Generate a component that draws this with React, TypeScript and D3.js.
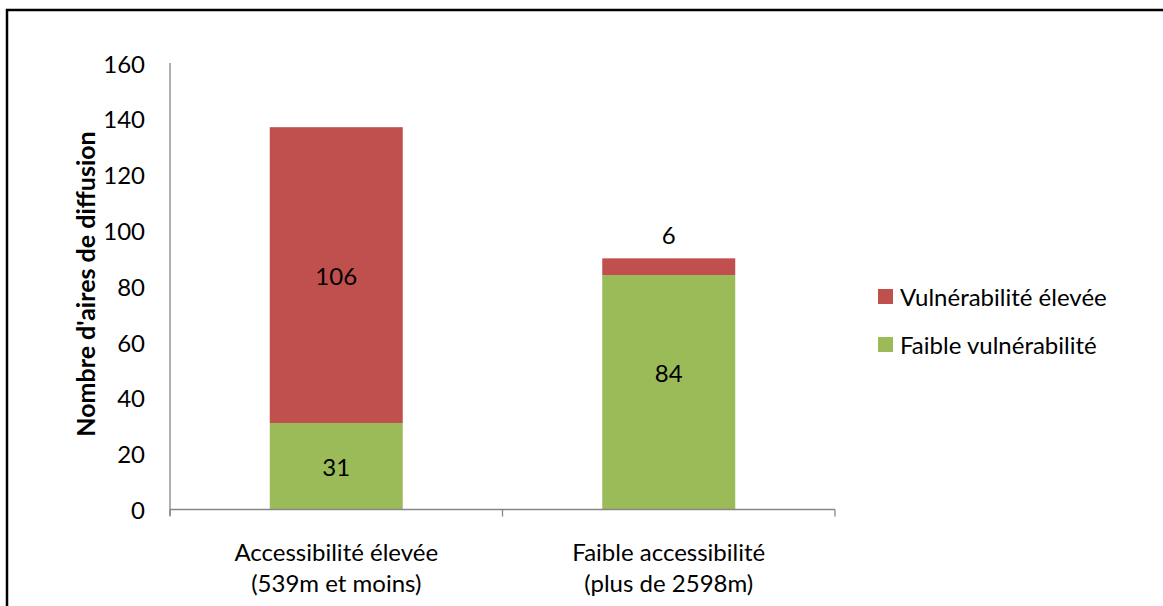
import React from "react";
import * as d3 from "d3";

const categories = ["Accessibilité élevée|(539m et moins)", "Faible accessibilité|(plus de 2598m)"];
const faible = [31, 84];
const elevee = [106, 6];
const yTicks = [0, 20, 40, 60, 80, 100, 120, 140, 160];
const seriesNames = ["Vulnérabilité élevée", "Faible vulnérabilité"];
const colors = { elevee: "#C0504D", faible: "#9BBB59" };

const W = 1163;
const H = 606;
const plot = { left: 170, right: 835, top: 63, bottom: 509.5 };
const FONT = "Lato, 'Open Sans', sans-serif";
const FS = 24;
// vertical nudge (px) applied to the green segment labels
const faibleLabelShift = [0, -20];

export default function App() {
  const x = d3
    .scaleBand<number>()
    .domain(categories.map((_, i) => i))
    .range([plot.left, plot.right])
    .paddingInner(0.6)
    .paddingOuter(0.3);
  const y = d3.scaleLinear().domain([0, 160]).range([plot.bottom, plot.top]);

  const stacked = categories.map((_, i) => ({
    i,
    g0: 0,
    g1: faible[i],
    r0: faible[i],
    r1: faible[i] + elevee[i],
  }));

  const step = (plot.right - plot.left) / categories.length;

  return (
    <svg
      width={W}
      height={H}
      style={{ position: "absolute", left: 0, top: 0, display: "block", background: "#fff" }}
      fontFamily={FONT}
    >
      <rect x={7} y={10} width={W + 20} height={H + 20} fill="#fff" stroke="#000" strokeWidth={2.5} />

      {/* y axis */}
      <line x1={plot.left} x2={plot.left} y1={plot.top} y2={plot.bottom + 6} stroke="#868686" strokeWidth={1.3} />
      {yTicks.map((t) => (
        <text key={t} x={145} y={y(t)} textAnchor="end" dominantBaseline="central" fontSize={FS} fill="#000">
          {t}
        </text>
      ))}

      {/* bars */}
      {stacked.map((d) => (
        <g key={d.i}>
          <rect x={x(d.i)} width={x.bandwidth()} y={y(d.g1)} height={y(d.g0) - y(d.g1)} fill={colors.faible} />
          <rect x={x(d.i)} width={x.bandwidth()} y={y(d.r1)} height={y(d.r0) - y(d.r1)} fill={colors.elevee} />
        </g>
      ))}

      {/* value labels */}
      {stacked.map((d) => {
        const cx = x(d.i)! + x.bandwidth() / 2;
        const rH = y(d.r0) - y(d.r1);
        return (
          <g key={"l" + d.i} fontSize={FS} textAnchor="middle" fill="#000">
            <text x={cx} y={(y(d.g0) + y(d.g1)) / 2 + faibleLabelShift[d.i]} dominantBaseline="central">
              {faible[d.i]}
            </text>
            <text
              x={cx}
              y={rH > 30 ? (y(d.r0) + y(d.r1)) / 2 : y(d.r1) - 24}
              dominantBaseline="central"
            >
              {elevee[d.i]}
            </text>
          </g>
        );
      })}

      {/* x axis */}
      <line x1={plot.left} x2={plot.right} y1={plot.bottom} y2={plot.bottom} stroke="#868686" strokeWidth={1.3} />
      {d3.range(categories.length + 1).map((k) => (
        <line
          key={k}
          x1={plot.left + k * step}
          x2={plot.left + k * step}
          y1={plot.bottom}
          y2={plot.bottom + 7}
          stroke="#868686"
          strokeWidth={1.3}
        />
      ))}
      {categories.map((c, i) => {
        const cx = plot.left + step * (i + 0.5);
        return c.split("|").map((line, j) => (
          <text key={i + "-" + j} x={cx} y={551 + j * 31} textAnchor="middle" dominantBaseline="central" fontSize={FS} fill="#000">
            {line}
          </text>
        ));
      })}

      {/* y title */}
      <text
        transform={`translate(85,284) rotate(-90)`}
        textAnchor="middle"
        dominantBaseline="central"
        fontSize={25}
        fontWeight="bold"
        fill="#000"
      >
        Nombre d'aires de diffusion
      </text>

      {/* legend */}
      {seriesNames.map((name, i) => (
        <g key={name} transform={`translate(878,${289 + i * 48})`}>
          <rect width={15} height={15} fill={i === 0 ? colors.elevee : colors.faible} />
          <text x={22} y={7.5} dominantBaseline="central" fontSize={FS} fill="#000">
            {name}
          </text>
        </g>
      ))}
    </svg>
  );
}
